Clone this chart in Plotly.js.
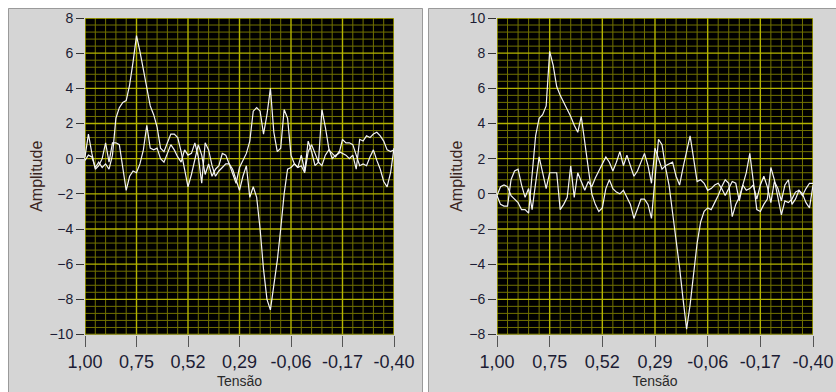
<!DOCTYPE html>
<html><head><meta charset="utf-8">
<script src="https://cdn.plot.ly/plotly-3.0.1.min.js"></script>
<style>html,body{margin:0;padding:0;background:#fff;}#chart{width:836px;height:392px;}</style>
</head><body><div id="chart"></div>
<script>
// ---- data ----
const tickLabels = ["1,00", "0,75", "0,52", "0,29", "-0,06", "-0,17", "-0,40"];
const xTitle = "Tensão";
const yTitle = "Amplitude";
const leftYRange = [-10, 8];
const rightYRange = [-8, 10];

const leftSeriesA = [
  -0.1, 0.2, 0.1, -0.5, -0.2, -0.5, -0.3, -0.6, 0.2, 2.3,
  2.9, 3.2, 3.3, 4.2, 5.5, 7.0, 6.1, 5.0, 4.0, 3.0,
  2.5, 1.8, 0.6, 0.4, 0.9, 1.4, 1.4, 1.2, 0.4, -0.7,
  -1.6, -0.9, 0.0, 0.8, 0.2, -0.9, -0.3, -1.0, -0.6, -0.4,
  0.3, 0.2, -0.3, -0.6, -1.2, -1.8, -1.0, -0.4, -2.2, -1.6,
  -2.2, -4.0, -6.3, -8.0, -8.6, -7.2, -5.8, -4.0, -2.0, -0.6,
  -0.5, -0.3, -0.5, -0.4, -0.8, 0.4, 0.8, 0.3, -0.2, -0.4,
  0.2, 0.5, 0.3, 0.1, 0.4, 0.3, 0.2, 0.0, 0.2, -0.6,
  1.1, 1.0, 1.3, 1.2, 1.4, 1.5, 1.3, 1.0, 0.5, 0.4,
  0.5
];
const leftSeriesB = [
  0.1, 1.4, 0.3, -0.6, -0.4, 0.0, 0.9, -0.2, 0.9, 0.9,
  0.8, -0.6, -1.8, -1.0, -0.7, -0.8, -0.3, 0.5, 1.9, 0.6,
  0.5, 0.6, 0.0, -0.2, 0.3, 0.8, 0.5, 0.1, -0.2, 0.5,
  0.2, 0.3, 0.9, 0.1, -1.4, 0.9, 0.5, -0.4, -1.0, -0.7,
  -0.5, -0.3, -0.3, -0.8, -1.4, -0.5, -0.1, 0.3, 1.0, 2.7,
  2.9, 2.7, 1.4, 2.5, 4.0, 1.5, 0.4, 0.6, 2.8, 2.3,
  0.2, -0.3, -0.5, 0.2, -0.7, 1.0, 0.4, -0.4, -0.2, 2.8,
  1.8, 0.6, 0.0, 0.2, 0.3, 1.1, 0.9, 0.9, 0.8, 0.2,
  -0.4, -0.3, -0.4, 0.1, 0.5, -0.1, -0.6, -1.3, -1.6, -0.8,
  0.6
];
const rightSeriesA = [
  -0.1, 0.4, 0.5, 0.4, -0.1, -0.3, -0.5, -0.9, -0.9, -1.1,
  1.0, 3.3, 4.3, 4.5, 5.0, 8.1, 7.3, 6.1, 5.6, 5.2,
  4.8, 4.4, 3.9, 3.5, 4.4, 2.9, 1.2, 0.0, -0.6, -1.0,
  -0.8, 0.3, 0.8, 0.3, 0.1, 0.0, 0.2, -0.2, -0.6, -1.4,
  -0.8, -0.3, -0.3, -0.6, -1.4, 1.0, 3.1, 2.8, 1.5, 0.5,
  -1.0, -2.5, -4.2, -6.0, -7.7, -6.3, -4.6, -2.8, -1.6, -1.0,
  -0.8, -0.9, -0.5, -0.1, 0.4, 0.8, 0.6, -1.3, -0.6, -0.2,
  0.5, 1.2, 2.3, 0.8, -0.9, -1.0, -0.6, -0.3, 1.5, 0.8,
  -0.3, -1.2, -0.4, -0.5, -0.3, 0.1, 0.2, -0.1, 0.3, 0.6,
  0.6
];
const rightSeriesB = [
  -0.1, -0.6, -0.7, -0.7, 0.8, 1.3, 1.4, 0.5, -0.2, 0.3,
  -0.9, 0.6, 2.1, 1.2, 0.3, 1.2, 1.2, 1.2, -0.9, -0.6,
  -0.2, 1.6, -0.2, 1.2, 0.7, 0.2, 0.7, 0.4, 0.9, 1.3,
  1.7, 2.1, 1.8, 1.3, 1.8, 2.4, 1.6, 2.2, 1.6, 1.0,
  1.3, 1.8, 2.3, 1.6, 0.6, 2.6, 2.0, 1.4, 1.6, 1.7,
  1.8, 1.0, 0.5, 1.5, 2.5, 3.3, 2.0, 0.7, 0.8, 0.6,
  0.2, 0.3, 0.5, 0.6, 0.3, -0.1, 0.3, 0.7, 0.6, -0.4,
  0.5, 0.2, 0.3, 0.5, -0.3, 0.5, 1.0, 0.4, -0.5, 0.7,
  0.3, -0.4, 0.5, 0.8, -0.6, -0.3, 0.2, 0.0, -0.5, -0.8,
  0.5
];

// ---- helpers ----
const W = 836, H = 392;
const px = v => v / W;
const py = v => 1 - v / H;
const nTicks = tickLabels.length;
const tickPos = tickLabels.map((_, i) => i);
function xsFor(arr) { return arr.map((_, i) => i * (nTicks - 1) / (arr.length - 1)); }

const majorGrid = '#b4b400';
const minorGrid = '#727200';

// grid drawn as shapes: 5 subdivisions per major step
function gridShapes(xa, ya, xRange, yRange, yStep) {
  const minor = [], major = [];
  const push = (list, isX, v, isMajor) => {
    const ln = {color: isMajor ? majorGrid : minorGrid, width: isMajor ? 1.4 : 1};
    if (isX) list.push({type: 'line', layer: 'below', xref: xa, yref: ya + ' domain', x0: v, x1: v, y0: 0, y1: 1, line: ln});
    else list.push({type: 'line', layer: 'below', xref: xa + ' domain', yref: ya, x0: 0, x1: 1, y0: v, y1: v, line: ln});
  };
  for (let k = Math.round(xRange[0] * 5); k <= Math.round(xRange[1] * 5); k++) {
    const isMajor = k % 5 === 0;
    push(isMajor ? major : minor, true, k / 5, isMajor);
  }
  for (let k = Math.round(yRange[0] / yStep * 5); k <= Math.round(yRange[1] / yStep * 5); k++) {
    const isMajor = k % 5 === 0;
    push(isMajor ? major : minor, false, k * yStep / 5, isMajor);
  }
  return minor.concat(major);
}

const lineStyle = {color: '#f4f4f4', width: 1.2};
const traces = [
  {x: xsFor(leftSeriesA), y: leftSeriesA, type: 'scatter', mode: 'lines', line: lineStyle, xaxis: 'x', yaxis: 'y', hoverinfo: 'skip'},
  {x: xsFor(leftSeriesB), y: leftSeriesB, type: 'scatter', mode: 'lines', line: lineStyle, xaxis: 'x', yaxis: 'y', hoverinfo: 'skip'},
  {x: xsFor(rightSeriesA), y: rightSeriesA, type: 'scatter', mode: 'lines', line: lineStyle, xaxis: 'x2', yaxis: 'y2', hoverinfo: 'skip'},
  {x: xsFor(rightSeriesB), y: rightSeriesB, type: 'scatter', mode: 'lines', line: lineStyle, xaxis: 'x2', yaxis: 'y2', hoverinfo: 'skip'}
];

const tickFontColor = '#1c1c34';
const baseFont = 'Liberation Sans, Arial, sans-serif';

function xAxis(domain, anchor) {
  return {
    domain: domain, anchor: anchor, range: [0, nTicks - 1], fixedrange: true,
    tickmode: 'array', tickvals: tickPos, ticktext: tickLabels,
    ticks: 'outside', ticklen: 11, tickwidth: 1, tickcolor: '#555',
    tickfont: {family: baseFont, size: 18, color: tickFontColor},
    showgrid: false, zeroline: false, showline: false,
    title: {text: xTitle, font: {family: baseFont, size: 14, color: '#2a2a2a'}, standoff: 5}
  };
}
function yAxis(domain, anchor, range) {
  return {
    domain: domain, anchor: anchor, range: range, fixedrange: true,
    tickmode: 'linear', tick0: 0, dtick: 2,
    ticks: 'outside', ticklen: 8, tickwidth: 1, tickcolor: '#333',
    tickfont: {family: baseFont, size: 14, color: tickFontColor},
    showgrid: false, zeroline: false, showline: false,
    title: {text: yTitle, font: {family: baseFont, size: 16, color: '#3a2420'}, standoff: 2}
  };
}

const yDom = [py(334.5), py(18)];
const white = '#ffffff';
function strip(x0, x1, y0, y1) {
  return {type: 'rect', xref: 'paper', yref: 'paper', x0: px(x0), x1: px(x1), y0: py(y1), y1: py(y0),
          fillcolor: white, line: {width: 0}, layer: 'below'};
}
function frame(x0, x1, y0, y1) {
  return {type: 'rect', xref: 'paper', yref: 'paper', x0: px(x0), x1: px(x1), y0: py(y1), y1: py(y0),
          fillcolor: 'rgba(0,0,0,0)', line: {color: '#9a9a9a', width: 1}, layer: 'below'};
}
const layout = {
  width: W, height: H,
  margin: {l: 0, r: 0, t: 0, b: 0},
  paper_bgcolor: '#d5d5d5', plot_bgcolor: '#000000',
  showlegend: false,
  xaxis: xAxis([px(85), px(394)], 'y'),
  yaxis: yAxis(yDom, 'x', leftYRange),
  xaxis2: xAxis([px(497), px(813)], 'y2'),
  yaxis2: yAxis(yDom, 'x2', rightYRange),
  shapes: [
    strip(0, W, 0, 8),
    strip(0, 8, 0, H),
    strip(423, 428, 0, H),
    frame(8.5, 422.5, 8.5, H + 5),
    frame(428.5, W + 5, 8.5, H + 5)
  ].concat(
    gridShapes('x', 'y', [0, nTicks - 1], leftYRange, 2),
    gridShapes('x2', 'y2', [0, nTicks - 1], rightYRange, 2)
  )
};

Plotly.newPlot('chart', traces, layout, {staticPlot: true, displayModeBar: false});
</script>
</body></html>
